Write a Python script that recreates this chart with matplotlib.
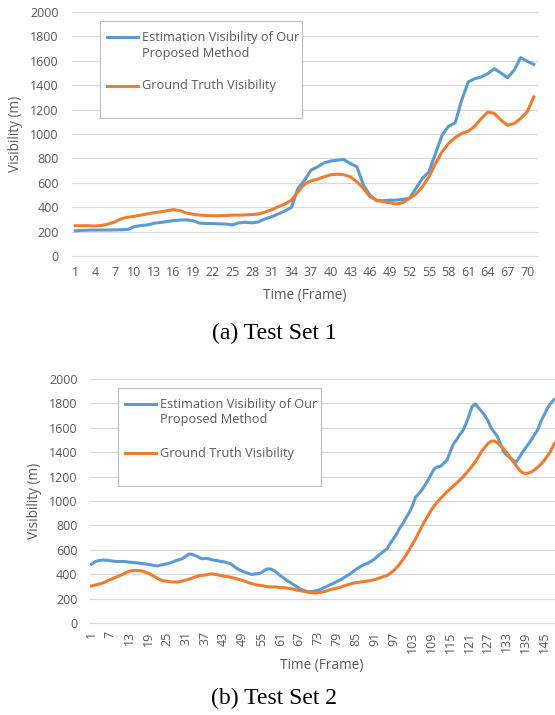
import numpy as np
import matplotlib
matplotlib.use("Agg")
import matplotlib.pyplot as plt
from matplotlib.patches import Rectangle
from matplotlib.lines import Line2D

W, H = 555, 715

# Test set 1 (71 frames)
est_1 = [207, 210, 212, 213, 213, 213, 214, 215, 218, 240,
         250, 254, 268, 275, 282, 290, 295, 296, 288, 270,
         266, 266, 264, 262, 255, 272, 276, 272, 280, 305,
         322, 345, 370, 398, 554, 622, 704, 731, 764, 778,
         786, 791, 758, 731, 581, 499, 453, 453, 458, 458,
         464, 472, 554, 636, 690, 840, 990, 1064, 1091, 1277,
         1427, 1454, 1468, 1495, 1536, 1500, 1462, 1522, 1626, 1596,
         1571]
gt_1 = [248, 248, 248, 246, 250, 262, 278, 305, 318, 325,
        335, 345, 355, 362, 372, 380, 372, 352, 342, 335,
        332, 330, 330, 332, 335, 335, 337, 340, 345, 360,
        380, 404, 426, 458, 527, 589, 617, 630, 649, 666,
        671, 666, 649, 608, 554, 486, 458, 445, 437, 426,
        437, 472, 507, 567, 649, 758, 854, 922, 971, 1004,
        1023, 1064, 1127, 1181, 1168, 1113, 1072, 1086, 1127, 1181,
        1304]

# Test set 2 (picture is cut at the right edge)
est_2 = [482, 500, 510, 515, 516, 514, 510, 507, 504, 503,
         505, 502, 499, 497, 494, 491, 487, 485, 480, 476,
         470, 468, 475, 480, 486, 492, 502, 513, 520, 530,
         548, 566, 562, 552, 540, 526, 530, 528, 520, 514,
         512, 505, 502, 495, 488, 470, 450, 436, 424, 415,
         405, 398, 402, 405, 412, 432, 444, 442, 430, 410,
         388, 370, 350, 335, 318, 300, 285, 272, 262, 256,
         258, 262, 268, 278, 290, 302, 315, 328, 340, 352,
         368, 385, 400, 418, 438, 455, 470, 482, 492, 508,
         525, 548, 570, 590, 610, 655, 690, 730, 780, 815,
         862, 905, 960, 1030, 1060, 1090, 1130, 1172, 1220, 1265,
         1280, 1285, 1310, 1335, 1400, 1465, 1500, 1540, 1575, 1630,
         1700, 1775, 1795, 1765, 1735, 1700, 1660, 1600, 1565, 1530,
         1470, 1405, 1375, 1355, 1335, 1320, 1355, 1400, 1435, 1470,
         1510, 1550, 1590, 1660, 1710, 1765, 1800, 1830, 1845]
gt_2 = [304, 310, 316, 323, 333, 345, 356, 367, 378, 388,
        400, 414, 424, 430, 430, 430, 426, 418, 408, 395,
        380, 365, 352, 345, 342, 338, 336, 335, 338, 345,
        352, 360, 368, 378, 386, 390, 393, 398, 403, 400,
        395, 390, 385, 380, 376, 370, 363, 356, 348, 340,
        330, 322, 315, 310, 308, 302, 298, 295, 296, 294,
        290, 290, 287, 283, 278, 272, 266, 262, 257, 252,
        248, 246, 248, 252, 258, 266, 274, 280, 286, 293,
        302, 310, 318, 325, 331, 334, 337, 341, 345, 350,
        356, 365, 374, 382, 390, 408, 428, 455, 485, 520,
        558, 600, 645, 690, 740, 790, 838, 882, 925, 962,
        995, 1022, 1048, 1075, 1098, 1120, 1145, 1170, 1195, 1225,
        1255, 1288, 1320, 1362, 1405, 1440, 1470, 1490, 1492, 1478,
        1455, 1428, 1395, 1360, 1325, 1290, 1255, 1232, 1226, 1230,
        1240, 1258, 1280, 1305, 1335, 1372, 1410, 1465, 1490]

yticks = list(range(0, 2001, 200))
legend_labels = ["Estimation Visibility of Our", "Proposed Method", "Ground Truth Visibility"]

BLUE = "#5B9BD5"
ORANGE = "#ED7D31"
GRID = "#D9D9D9"
TXT = "#595959"
FS_TICK = 9
FS_LEG = 9.2
FS_LAB = 9.8
LW = 2.2

plt.rcParams["font.family"] = ["Open Sans", "DejaVu Sans"]


def fx(x):
    return x / W


def fy(y):
    return 1 - y / H


def panel(fig, box, est, gt, xlim, step, rot, xpad, ypad):
    l, t, r, b = box
    ax = fig.add_axes([fx(l), fy(b), (r - l) / W, (b - t) / H])
    frames = np.arange(1, len(est) + 1)
    ax.plot(frames, est, color=BLUE, lw=LW, solid_joinstyle="round")
    ax.plot(frames, gt, color=ORANGE, lw=LW, solid_joinstyle="round")
    ax.set_xlim(*xlim)
    ax.set_ylim(0, 2000)
    ax.set_yticks(yticks)
    ax.set_xticks(frames[::step])
    ax.set_xticklabels([str(f) for f in frames[::step]], rotation=rot)
    ax.grid(axis="y", color=GRID, lw=0.9)
    ax.set_axisbelow(True)
    for g in ax.get_ygridlines():
        g.set_clip_on(False)
    for s in ax.spines.values():
        s.set_visible(False)
    ax.tick_params(length=0, labelsize=FS_TICK, labelcolor=TXT)
    ax.tick_params(axis="x", pad=xpad)
    ax.tick_params(axis="y", pad=ypad)
    return ax


def legend_box(fig, x0, y0, x1, y1):
    fig.add_artist(Rectangle((fx(x0), fy(y1)), (x1 - x0) / W, (y1 - y0) / H,
                             transform=fig.transFigure, fill=True, fc="white",
                             ec="#BFBFBF", lw=0.8))
    ly = [y0 + 16, y0 + 65]
    for yy, c in zip(ly, [BLUE, ORANGE]):
        fig.add_artist(Line2D([fx(x0 + 7), fx(x0 + 38)], [fy(yy), fy(yy)],
                              transform=fig.transFigure, color=c, lw=LW))
    tx = fx(x0 + 42)
    fig.text(tx, fy(ly[0]), legend_labels[0], fontsize=FS_LEG, color=TXT, va="center")
    fig.text(tx, fy(ly[0] + 16), legend_labels[1], fontsize=FS_LEG, color=TXT, va="center")
    fig.text(tx, fy(ly[1]), legend_labels[2], fontsize=FS_LEG, color=TXT, va="center")


fig = plt.figure(figsize=(W / 100, H / 100), dpi=100)

# (a)
panel(fig, (72, 12, 537, 256), est_1, gt_1, (0.5, 71.5), 3, 0, 7.5, 9.5)
legend_box(fig, 100, 21, 302, 118)
fig.text(fx(16), fy(134), "Visibility (m)", rotation=90, fontsize=FS_LAB,
         color=TXT, ha="center", va="center")
fig.text(fx(304.5), fy(295), "Time (Frame)", fontsize=FS_LAB, color=TXT,
         ha="center", va="center")
fig.text(fx(274), fy(333), "(a) Test Set 1", family="Liberation Serif",
         fontsize=17, ha="center", va="center")

# (b)
panel(fig, (90, 379, 555, 623), est_2, gt_2, (0.5, 148.35), 6, 90, 6, 9)
legend_box(fig, 118, 388, 321, 486)
fig.text(fx(34), fy(501), "Visibility (m)", rotation=90, fontsize=FS_LAB,
         color=TXT, ha="center", va="center")
fig.text(fx(322), fy(666), "Time (Frame)", fontsize=FS_LAB, color=TXT,
         ha="center", va="center")
fig.text(fx(274), fy(698), "(b) Test Set 2", family="Liberation Serif",
         fontsize=17, ha="center", va="center")

fig.savefig("out.png", dpi=100)
plt.close(fig)
